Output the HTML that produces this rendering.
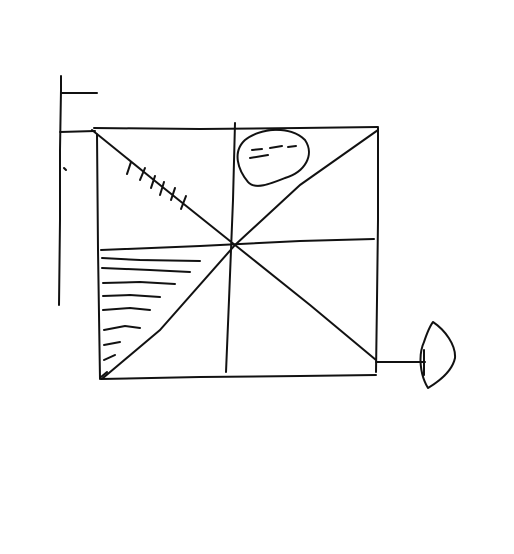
<!DOCTYPE html>
<html><head><meta charset="utf-8"><style>
html,body{margin:0;padding:0;background:#fff;width:514px;height:554px;overflow:hidden}
svg{display:block}
</style></head><body>
<svg width="514" height="554" viewBox="0 0 514 554" fill="none" stroke="#111" stroke-width="2" stroke-linecap="round" stroke-linejoin="round">
<g>
<path d="M61 76 L61 90 L60 150 L60 220 L59 305"/>
<path d="M62 93 L97 93"/>
<path d="M60 132 L95 131"/>
<path d="M64 168 L66 170"/>
</g>
<g>
<path d="M94 128 L200 129 L300 128 L378 127"/>
<path d="M378 128 L378 220 L377 300 L376 372"/>
<path d="M101 379 L200 377 L300 376 L376 375"/>
<path d="M97 134 L98 250 L100 379"/>
</g>
<g>
<path d="M92 130 L160 185 L235 245 L310 305 L376 360"/>
<path d="M103 378 L160 330 L235 245 L300 185 L378 130"/>
<path d="M107 372 L101 377"/>
</g>
<g>
<path d="M235 123 L233 200 L229 300 L226 372"/>
<path d="M101 250 L200 246 L300 241 L374 239"/>
</g>
<g>
<path d="M131 162 L127 174"/>
<path d="M145 168 L140 180"/>
<path d="M155 176 L151 188"/>
<path d="M164 182 L160 195"/>
<path d="M175 188 L171 200"/>
<path d="M186 196 L181 209"/>
</g>
<g>
<path d="M102 258 L140 260 L200 261"/>
<path d="M102 268 L150 270 L190 272"/>
<path d="M103 283 L140 282 L175 284"/>
<path d="M103 296 L130 295 L160 297"/>
<path d="M103 310 L130 308 L150 310"/>
<path d="M104 330 L125 326 L140 328"/>
<path d="M104 345 L120 342"/>
<path d="M104 360 L115 355"/>
</g>
<g>
<path d="M245 140 C260 128 290 125 305 140 C315 155 305 172 285 178 C270 184 255 190 248 182 C238 170 232 152 245 140 Z"/>
<path d="M252 150 L262 149"/>
<path d="M270 148 L282 146"/>
<path d="M288 147 L296 146"/>
<path d="M250 158 L268 155"/>
</g>
<g>
<path d="M376 362 L425 362"/>
<path d="M433 322 C445 330 456 345 455 358 C452 372 438 382 428 388 C420 375 418 355 424 342 C427 333 430 326 433 322 Z"/>
<path d="M424 350 L424 375"/>
</g>
</svg>
</body></html>
